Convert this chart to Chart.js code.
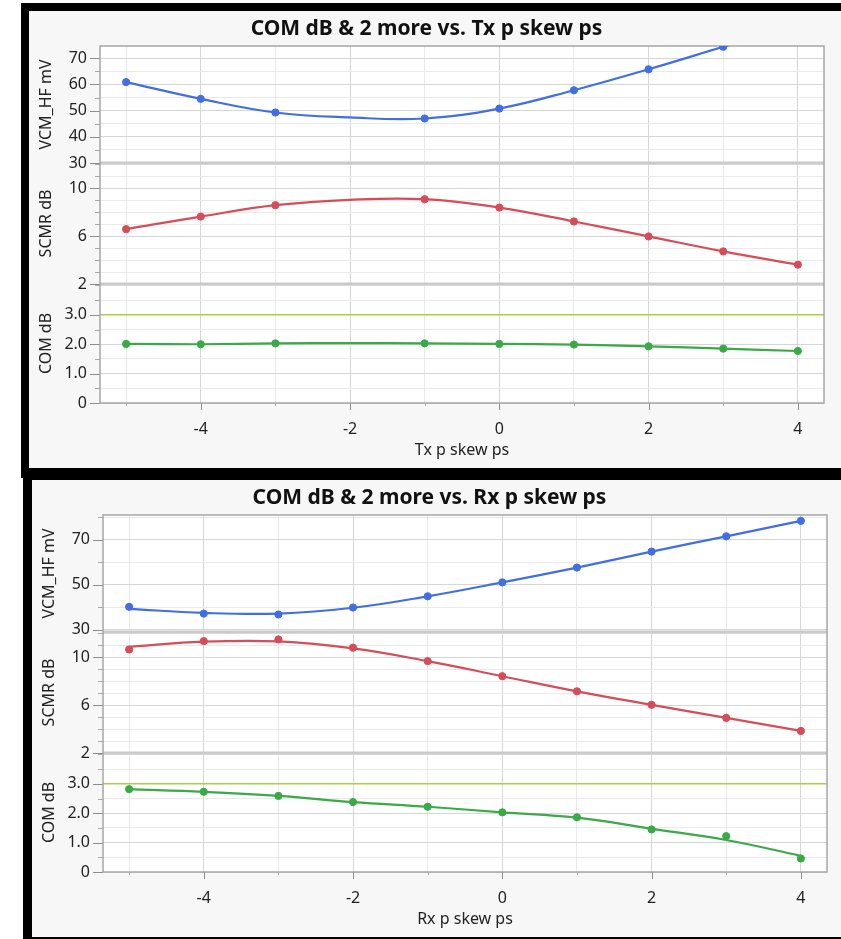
<!DOCTYPE html>
<html>
<head>
<meta charset="utf-8">
<script src="https://cdn.jsdelivr.net/npm/chart.js@4.4.0/dist/chart.umd.min.js"></script>
<style>
  body { margin: 0; background: #fff; width: 841px; height: 939px; position: relative; overflow: hidden; }
  .panel { position: absolute; background: #f7f7f7; border: 0 solid #000; box-sizing: border-box; }
  #panelTx { left: 21px; top: 3px; width: 820px; height: 475px; border-top-width: 8px; border-left-width: 8px; border-bottom-width: 10px; }
  #panelRx { left: 23px; top: 468px; width: 818px; height: 471px; border-top-width: 12px; border-left-width: 9px; border-bottom-width: 2px; }
  .panel canvas { display: block; }
</style>
</head>
<body>
<div class="panel" id="panelTx"><canvas id="chartTx" width="812" height="457"></canvas></div>
<div class="panel" id="panelRx"><canvas id="chartRx" width="809" height="457"></canvas></div>
<script>
// x values (skew in ps) shared by both sweeps
const skew = [-5, -4, -3, -2, -1, 0, 1, 2, 3, 4];
const xTickLabels = [-4, -2, 0, 2, 4];

// Tx p skew sweep (no measurement at -2)
const vcmTx     = [60.9, 54.5, 49.3, null, 47.0, 50.8, 57.8, 65.8, 74.4, 83];
const vcmTxFit  = [60.9, 54.5, 49.3, 47.4, 47.0, 50.8, 57.8, 65.8, 74.4, 83];
const scmrTx    = [6.58, 7.63, 8.58, null, 9.08, 8.38, 7.22, 5.97, 4.72, 3.61];
const scmrTxFit = [6.58, 7.63, 8.58, 9.03, 9.08, 8.38, 7.22, 5.97, 4.72, 3.61];
const comTx     = [2.01, 2.00, 2.03, null, 2.03, 2.01, 1.99, 1.93, 1.85, 1.77];
const comTxFit  = [2.01, 2.00, 2.03, 2.04, 2.03, 2.01, 1.99, 1.93, 1.85, 1.77];

// Rx p skew sweep
const vcmRx     = [40.2, 37.2, 36.8, 39.9, 44.9, 51.1, 57.7, 64.8, 71.6, 78.5];
const vcmRxFit  = [39.3, 37.5, 37.2, 39.8, 44.9, 51.1, 57.7, 64.8, 71.6, 78.5];
const scmrRx    = [10.64, 11.34, 11.48, 10.79, 9.67, 8.41, 7.15, 6.02, 4.93, 3.84];
const scmrRxFit = [10.87, 11.29, 11.31, 10.73, 9.67, 8.41, 7.15, 6.02, 4.93, 3.84];
const comRx     = [2.82, 2.73, 2.59, 2.38, 2.22, 2.03, 1.86, 1.45, 1.22, 0.46];
const comRxFit  = [2.82, 2.73, 2.59, 2.38, 2.22, 2.03, 1.85, 1.47, 1.09, 0.55];

// tick labels for each sub plot
const vcmTxTicks = [30, 40, 50, 60, 70];
const vcmRxTicks = [30, 50, 70];
const scmrTicks = [2, 6, 10];
const comTicks = [0, 1, 2, 3];
const comLimit = 3.0;

const BLUE = '#426ee4', RED = '#d64c58', GREEN = '#3aaa46';
const FONT = '"Noto Sans", "Open Sans", sans-serif';
const gridMajor = '#d6d6d6', gridMinor = '#e9e9e9';

// frame, separators, spec line and tick marks (JMP style)
const framePlugin = {
  id: 'frame',
  beforeDraw(chart) {
    const {ctx, chartArea: a} = chart;
    ctx.save();
    ctx.fillStyle = '#fff';
    ctx.fillRect(a.left, a.top, a.right - a.left, a.bottom - a.top);
    ctx.restore();
  },
  beforeDatasetsDraw(chart) {
    const {ctx, chartArea: a, scales} = chart;
    const seg = (x1, y1, x2, y2) => { ctx.beginPath(); ctx.moveTo(x1, y1); ctx.lineTo(x2, y2); ctx.stroke(); };
    ctx.save();

    // COM limit line
    const yl = scales.yCom.getPixelForValue(comLimit);
    ctx.strokeStyle = '#a9cf45';
    ctx.lineWidth = 1.5;
    seg(a.left, yl, a.right, yl);

    // separators between sub plots
    ctx.strokeStyle = '#cacaca';
    ctx.lineWidth = 3;
    [scales.yScmr.top, scales.yCom.top].forEach(y => seg(a.left, y, a.right, y));

    // tick marks
    ctx.lineWidth = 1;
    ['yVcm', 'yScmr', 'yCom'].forEach(id => {
      scales[id].ticks.forEach(t => {
        const p = Math.round(scales[id].getPixelForValue(t.value)) + 0.5;
        const major = t.label !== '';
        ctx.strokeStyle = major ? '#8c8c8c' : '#a8a8a8';
        seg(a.left - (major ? 10 : 5), p, a.left, p);
      });
    });
    scales.x.ticks.forEach(t => {
      const p = Math.round(scales.x.getPixelForValue(t.value)) + 0.5;
      const major = t.label !== '';
      ctx.strokeStyle = major ? '#8c8c8c' : '#a8a8a8';
      seg(p, a.bottom, p, a.bottom + (major ? 7 : 3));
    });

    // plot frame
    ctx.strokeStyle = '#a6a6a6';
    ctx.lineWidth = 1.5;
    ctx.strokeRect(a.left, a.top, a.right - a.left, a.bottom - a.top);
    ctx.restore();
  }
};

function yAxis(title, min, max, step, weight, labels, fmt) {
  return {
    type: 'linear',
    position: 'left',
    stack: 'metrics',
    stackWeight: weight,
    min: min,
    max: max,
    afterFit: s => { s.width = 71; },
    border: { display: false },
    grid: {
      drawTicks: false,
      color: c => labels.includes(c.tick.value) ? gridMajor : gridMinor,
      lineWidth: 1
    },
    ticks: {
      stepSize: step,
      includeBounds: false,
      autoSkip: false,
      padding: 13,
      color: '#222',
      font: { family: FONT, size: 16 },
      callback: v => labels.includes(v) ? fmt(v) : ''
    },
    title: {
      display: true,
      text: title,
      color: '#222',
      padding: { top: 8, bottom: 0 },
      font: { family: FONT, size: 16 }
    }
  };
}

function buildChart(canvasId, opts) {
  const pts = arr => skew.map((x, i) => ({ x: x, y: arr[i] }));
  const markers = (arr, color, axis) => ({
    data: pts(arr), yAxisID: axis, showLine: false,
    pointRadius: 3.6, pointHoverRadius: 3.6,
    pointBackgroundColor: color, pointBorderColor: color,
    borderColor: color, backgroundColor: color
  });
  const curve = (arr, color, axis) => ({
    data: pts(arr), yAxisID: axis, borderColor: color, borderWidth: 2.2,
    pointRadius: 0, pointHoverRadius: 0, tension: 0.4, fill: false, spanGaps: true
  });

  return new Chart(document.getElementById(canvasId), {
    type: 'line',
    data: {
      datasets: [
        curve(opts.vcmFit, BLUE, 'yVcm'),
        markers(opts.vcm, BLUE, 'yVcm'),
        curve(opts.scmrFit, RED, 'yScmr'),
        markers(opts.scmr, RED, 'yScmr'),
        curve(opts.comFit, GREEN, 'yCom'),
        markers(opts.com, GREEN, 'yCom')
      ]
    },
    options: {
      responsive: false,
      animation: false,
      layout: { padding: { left: 0, right: opts.padRight, top: 0, bottom: 5 } },
      plugins: {
        legend: { display: false },
        tooltip: { enabled: false },
        title: {
          display: true,
          text: opts.title,
          color: '#111',
          font: { family: FONT, size: 21, weight: 'bold', lineHeight: 1.1 },
          padding: { top: 6, bottom: 5.9 }
        }
      },
      scales: {
        x: {
          type: 'linear',
          min: -5.35,
          max: 4.35,
          afterFit: s => { s.height = 60; },
          border: { display: false },
          grid: {
            drawTicks: false,
            color: c => xTickLabels.includes(c.tick.value) ? gridMajor : gridMinor
          },
          ticks: {
            stepSize: 1,
            includeBounds: false,
            autoSkip: false,
            maxRotation: 0,
            padding: 17,
            color: '#222',
            font: { family: FONT, size: 16 },
            callback: v => xTickLabels.includes(v) ? String(v) : ''
          },
          title: {
            display: true,
            text: opts.xTitle,
            color: '#222',
            padding: { top: 0, bottom: 3 },
            font: { family: FONT, size: 16 }
          }
        },
        yCom: yAxis('COM dB', 0, 4.05, 0.5, 119, comTicks, v => v === 0 ? '0' : v.toFixed(1)),
        yScmr: yAxis('SCMR dB', 2, 12.1, 1, 121, scmrTicks, v => String(v)),
        yVcm: yAxis('VCM_HF mV', opts.vcmMin, opts.vcmMax, opts.vcmStep, 117, opts.vcmTicks, v => String(v))
      }
    },
    plugins: [framePlugin]
  });
}

buildChart('chartTx', {
  title: 'COM dB & 2 more vs. Tx p skew ps',
  xTitle: 'Tx p skew ps',
  vcm: vcmTx, vcmFit: vcmTxFit, scmr: scmrTx, scmrFit: scmrTxFit, com: comTx, comFit: comTxFit,
  vcmMin: 30, vcmMax: 74.7, vcmStep: 5, vcmTicks: vcmTxTicks,
  padRight: 17
});

buildChart('chartRx', {
  title: 'COM dB & 2 more vs. Rx p skew ps',
  xTitle: 'Rx p skew ps',
  vcm: vcmRx, vcmFit: vcmRxFit, scmr: scmrRx, scmrFit: scmrRxFit, com: comRx, comFit: comRxFit,
  vcmMin: 29, vcmMax: 81.1, vcmStep: 10, vcmTicks: vcmRxTicks,
  padRight: 14
});
</script>
</body>
</html>
